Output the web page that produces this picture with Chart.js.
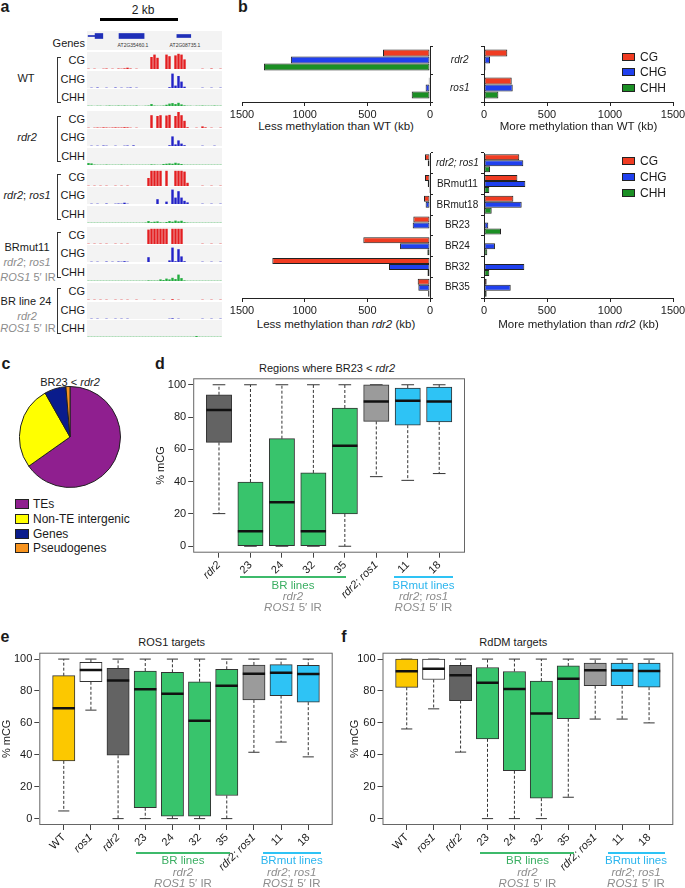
<!DOCTYPE html>
<html>
<head>
<meta charset="utf-8">
<script src="https://cdn.jsdelivr.net/npm/chart.js@4.4.0/dist/chart.umd.min.js"></script>
<style>
body{margin:0;background:#fff;}
#fig{position:relative;width:685px;height:888px;overflow:hidden;font-family:'Liberation Sans',Arial,sans-serif;color:#1a1a1a;}
#fig canvas{position:absolute;}
.t{position:absolute;white-space:nowrap;line-height:1;}
</style>
</head>
<body>
<div id="fig"></div>
<script>
// ---------- a: methylation tracks (45 bins over ~3.5 kb) ----------
var WT_CG   = [2,0,2,0,0,2,3,0,2,0,3,2,4,8,3,0,2,0,0,0,0,75,90,70,0,0,90,80,0,85,95,90,60,0,0,0,0,0,2,0,0,3,0,0,2];
var WT_CHG  = [0,2,0,3,0,0,2,0,0,3,0,2,0,2,3,0,2,0,0,0,0,0,0,0,0,0,0,5,90,15,75,40,8,0,0,0,0,0,2,0,0,2,0,0,2];
var WT_CHH  = [2,2,1,2,2,1,2,3,2,2,3,2,3,2,2,2,3,1,1,2,3,12,3,2,2,3,8,15,18,12,20,10,4,2,2,1,2,2,3,2,2,2,3,2,2];
var rdr2_CG  = [2,0,2,3,2,4,3,2,3,4,3,3,5,4,2,0,2,0,0,0,0,80,0,75,80,0,78,82,0,75,100,80,45,5,0,0,2,0,10,4,0,2,0,0,2];
var rdr2_CHG = [0,2,0,2,0,3,2,0,0,2,0,0,2,3,0,4,0,0,0,0,0,0,0,0,0,0,0,5,60,10,35,15,5,0,0,0,0,0,2,0,0,0,2,0,0];
var rdr2_CHH = [12,10,3,2,2,2,3,2,2,2,2,3,2,2,2,2,2,2,2,2,2,4,3,2,2,6,8,10,8,14,10,6,2,2,2,2,2,2,2,2,2,2,2,2,2];
var rr_CG  = [2,0,2,0,2,0,2,0,0,2,0,2,0,2,0,0,0,0,0,0,50,95,95,95,95,0,95,0,0,95,95,95,90,20,0,0,0,0,2,0,0,2,0,0,2];
var rr_CHG = [0,2,0,2,0,0,3,0,0,2,3,2,8,2,0,0,0,0,0,0,0,0,0,30,0,0,15,0,90,40,80,40,20,10,0,0,0,0,2,0,0,2,0,0,2];
var rr_CHH = [2,2,2,2,2,2,2,2,2,2,2,2,2,2,2,2,2,2,2,3,12,5,8,10,4,3,6,12,8,15,10,14,5,3,2,2,2,2,2,2,2,2,2,2,2];
var m11_CG  = [2,0,2,0,2,0,2,0,0,2,0,2,0,2,0,0,0,0,0,0,90,95,95,95,95,95,95,0,95,95,95,95,0,0,0,0,0,0,2,0,0,2,0,0,2];
var m11_CHG = [0,2,0,2,0,0,3,0,2,0,3,2,5,2,0,0,0,0,0,0,30,0,0,0,0,0,0,10,90,5,80,35,5,0,0,0,0,0,2,0,0,2,0,0,2];
var m11_CHH = [2,2,2,2,2,2,2,2,2,2,2,2,2,2,2,2,2,2,2,2,4,3,3,3,10,6,15,10,20,12,40,18,4,2,2,2,2,2,2,2,2,2,2,2,2];
var br24_CG  = [2,0,2,0,2,0,2,0,0,2,0,2,0,2,0,0,2,0,0,0,0,0,2,0,0,2,0,0,5,0,2,0,0,0,0,0,0,0,2,0,0,2,0,0,2];
var br24_CHG = [0,2,0,2,0,0,2,0,0,2,0,2,0,2,0,0,0,0,0,0,0,0,0,0,0,0,0,2,4,0,2,0,0,0,0,0,0,0,2,0,0,2,0,0,2];
var br24_CHH = [2,2,2,2,2,2,2,2,2,2,2,2,2,2,2,2,2,2,2,2,2,2,2,2,2,2,2,2,2,2,2,2,2,2,2,2,6,2,2,2,2,2,2,2,2];
// gene models (kb)
var geneStart = [0.03, 0.21, 0.83, 2.33];
var geneEnd   = [0.21, 0.41, 1.48, 2.69];

// ---------- b: differentially methylated regions (kb) ----------
var bCatsWT = ['rdr2', 'ros1'];
var lessWT_CG  = [375, 10];
var lessWT_CHG = [1110, 35];
var lessWT_CHH = [1325, 146];
var moreWT_CG  = [185, 220];
var moreWT_CHG = [48, 228];
var moreWT_CHH = [12, 114];
var bCatsR = ['rdr2; ros1', 'BRmut11', 'BRmut18', 'BR23', 'BR24', 'BR32', 'BR35'];
var lessR_CG  = [40, 40, 48, 133, 532, 1258, 98];
var lessR_CHG = [18, 18, 35, 138, 239, 327, 93];
var lessR_CHH = [5, 8, 5, 2, 21, 20, 15];
var moreR_CG  = [280, 265, 233, 3, 4, 4, 21];
var moreR_CHG = [312, 328, 299, 34, 87, 320, 212];
var moreR_CHH = [48, 42, 61, 135, 26, 42, 21];

// ---------- c: BR23 < rdr2 annotation ----------
var pieLabels = ['TEs', 'Non-TE intergenic', 'Genes', 'Pseudogenes'];
var pieValues = [65.2, 26.6, 6.9, 1.3];

// ---------- d: regions where BR23 < rdr2 ----------
var dCats = ['rdr2', '23', '24', '32', '35', 'rdr2; ros1', '11', '18'];
var dMin = [20.2, 0, 0, 0, 0, 43.1, 40.8, 45];
var dQ1  = [64.3, 0, 0, 0, 20, 77.3, 75, 77];
var dMed = [84.3, 9.3, 27.2, 9.3, 62.3, 89.7, 90.1, 89.7];
var dQ3  = [93.8, 39.8, 66.6, 45.4, 85.6, 100, 98, 98.6];
var dMax = [100, 100, 100, 100, 100, 100, 100, 100];

// ---------- e: ROS1 targets ----------
var efCats = ['WT', 'ros1', 'rdr2', '23', '24', '32', '35', 'rdr2; ros1', '11', '18'];
var eMin = [4.8, 68, 0, 0, 0, 0, 0, 41.6, 48, 38.7];
var eQ1  = [36.2, 85.8, 39.7, 6.8, 1.6, 1.6, 14.5, 74.4, 77.1, 73];
var eMed = [69.2, 93.1, 86.5, 81.1, 78.2, 61.3, 83.3, 90.8, 91.5, 90.6];
var eQ3  = [89.6, 97.9, 94.2, 92.5, 91.7, 85.8, 93.6, 96.3, 96.5, 96.1];
var eMax = [100, 100, 100, 100, 100, 100, 100, 100, 100, 100];

// ---------- f: RdDM targets ----------
var fMin = [56.2, 68.8, 41.7, 0, 0, 0, 13.4, 62.4, 62.4, 60];
var fQ1  = [82.3, 87.2, 74, 50, 30, 12.8, 62.6, 83.3, 83.3, 82.4];
var fMed = [92.4, 94, 89.9, 85.1, 81.2, 65.9, 87.6, 93, 92.8, 92.6];
var fQ3  = [100, 100, 96.1, 94.7, 92.2, 86.2, 95.7, 97.5, 97.5, 97.5];
var fMax = [100, 100, 100, 100, 100, 100, 100, 100, 100, 100];

var italics = ['rdr2', 'ros1', 'rdr2; ros1'];
var RED = '#f03c22', BLUE = '#2040ee', GREEN = '#1b8f24';
var boxCols = ['#fcc800', '#ffffff', '#636363', '#38c46c', '#38c46c', '#38c46c', '#38c46c', '#9b9b9b', '#2ec3f5', '#2ec3f5'];

Chart.defaults.font.family = "'Liberation Sans', Arial, sans-serif";
Chart.defaults.color = '#1a1a1a';
Chart.defaults.animation = false;
Chart.defaults.responsive = false;
Chart.defaults.layout.autoPadding = false;
Chart.defaults.plugins.legend.display = false;
Chart.defaults.plugins.tooltip.enabled = false;

var fig = document.getElementById('fig');

function canvas(x, y, w, h, bg) {
	var c = document.createElement('canvas');
	c.width = w; c.height = h;
	c.style.left = x + 'px'; c.style.top = y + 'px';
	if (bg) c.style.background = bg;
	fig.appendChild(c);
	return c;
}
function text(html, x, y, align, css) {
	var d = document.createElement('div');
	d.className = 't';
	d.innerHTML = html;
	d.style.left = x + 'px'; d.style.top = y + 'px';
	var tx = align == 'l' ? '0' : align == 'r' ? '-100%' : '-50%';
	d.style.transform = 'translate(' + tx + ',-50%)';
	if (css) d.style.cssText += css;
	fig.appendChild(d);
	return d;
}
function rect(x, y, w, h, css) {
	var d = document.createElement('div');
	d.style.cssText = 'position:absolute;left:' + x + 'px;top:' + y + 'px;width:' + w + 'px;height:' + h + 'px;' + css;
	fig.appendChild(d);
	return d;
}
// keep Chart.js from reserving room for half-labels at the axis ends
function noPad(s) { s.paddingTop = 0; s.paddingBottom = 0; s.paddingLeft = 0; s.paddingRight = 0; }

// panel letters
text('a', 5, 7, 'c', 'font-weight:bold;font-size:16px');
text('b', 243, 7, 'c', 'font-weight:bold;font-size:16px');
text('c', 6, 364, 'c', 'font-weight:bold;font-size:16px');
text('d', 160, 364, 'c', 'font-weight:bold;font-size:16px');
text('e', 5, 637, 'c', 'font-weight:bold;font-size:16px');
text('f', 344, 637, 'c', 'font-weight:bold;font-size:16px');

// ===== a =====
var bins = WT_CG.map(function(v, i){ return i; });
function track(vals, color, x, y) {
	new Chart(canvas(x, y, 135, 17, '#f3f3f3'), {
		type: 'bar',
		data: {labels: bins, datasets: [{data: vals, backgroundColor: color, barPercentage: 0.8, categoryPercentage: 1}]},
		options: {
			layout: {padding: {top: 1}},
			scales: {
				x: {ticks: {display: false}, grid: {drawOnChartArea: false, drawTicks: false}, border: {color: '#8a8a8a', dash: [1, 2]}},
				y: {display: false, min: 0, max: 100}
			}
		}
	});
}
text('2 kb', 143, 10, 'c', 'font-size:12px');
rect(100, 18, 78, 3, 'background:#000');
rect(87, 31, 135, 19, 'background:#f3f3f3');
new Chart(canvas(87, 32, 135, 8), {
	type: 'bar',
	data: {labels: ['g'], datasets: geneStart.map(function(s, i){
		return {data: [[s, geneEnd[i]]], backgroundColor: '#1f2fb8', barThickness: [1, 5, 5, 3][i], grouped: false};
	})},
	options: {indexAxis: 'y', scales: {x: {display: false, min: 0, max: 3.5}, y: {display: false}}}
});
text('AT2G35460.1', 133, 45, 'c', 'font-size:5px;color:#333');
text('AT2G08735.1', 185, 45, 'c', 'font-size:5px;color:#333');
text('Genes', 85, 43, 'r', 'font-size:11px');

var groups = [
	[WT_CG, WT_CHG, WT_CHH], [rdr2_CG, rdr2_CHG, rdr2_CHH], [rr_CG, rr_CHG, rr_CHH],
	[m11_CG, m11_CHG, m11_CHH], [br24_CG, br24_CHG, br24_CHH]
];
var gTop = [52, 110.5, 168.5, 226.5, 283];
var tCols = ['#e41e20', '#2222c8', '#22ad3e'];
groups.forEach(function(g, gi){
	g.forEach(function(vals, t){
		var y = gTop[gi] + t * 18.5;
		track(vals, tCols[t], 87, y);
		text(['CG', 'CHG', 'CHH'][t], 85, y + 8, 'r', 'font-size:11px');
	});
	rect(57, gTop[gi] + 5, 4, 46, 'border:1px solid #333;border-right:none;box-sizing:border-box');
});
var gl = 'font-size:11px;';
text('WT', 26, 78, 'c', gl);
text('<i>rdr2</i>', 27, 137, 'c', gl);
text('<i>rdr2</i>; <i>ros1</i>', 27, 195, 'c', gl);
text('BRmut11', 27, 247, 'c', gl);
text('<i>rdr2</i>; <i>ros1</i>', 27, 262, 'c', gl + 'color:#8c8c8c');
text('<i>ROS1</i> 5\u2032 IR', 28, 277, 'c', gl + 'color:#8c8c8c');
text('BR line 24', 26, 301, 'c', gl);
text('<i>rdr2</i>', 27, 316, 'c', gl + 'color:#8c8c8c');
text('<i>ROS1</i> 5\u2032 IR', 28, 328, 'c', gl + 'color:#8c8c8c');

// ===== b =====
function hbars(x, y, w, h, pad, cats, cg, chg, chh, left, catPct, labPad) {
	new Chart(canvas(x, y, w, h), {
		type: 'bar',
		data: {labels: cats, datasets: [
			{data: cg, backgroundColor: RED},
			{data: chg, backgroundColor: BLUE},
			{data: chh, backgroundColor: GREEN}
		]},
		options: {
			indexAxis: 'y',
			layout: {padding: pad},
			datasets: {bar: {borderColor: '#222', borderWidth: 1, borderSkipped: false, barPercentage: 1, categoryPercentage: catPct}},
			scales: {
				x: {min: 0, max: 1500, reverse: left,
					ticks: {stepSize: 500, font: {size: 11}, padding: 2, maxRotation: 0, callback: function(v){ return String(v); }},
					grid: {drawOnChartArea: false, tickLength: 4, color: '#222'}, border: {color: '#222'},
					afterFit: function(s){ s.height = 16; noPad(s); }},
				y: {position: left ? 'right' : 'left',
					ticks: {display: left, crossAlign: 'center', padding: labPad,
						font: function(c){ return {size: 10, style: italics.indexOf(cats[c.index]) >= 0 ? 'italic' : 'normal'}; }},
					grid: {drawOnChartArea: false, tickLength: 3, color: '#222'}, border: {color: '#222'},
					afterFit: function(s){ s.width = left ? 54 : 6; noPad(s); }}
			}
		}
	});
}
hbars(230, 40, 254, 78, {left: 12, top: 6}, bCatsWT, lessWT_CG, lessWT_CHG, lessWT_CHH, true, 0.75, 17);
hbars(478, 40, 207, 78, {right: 12, top: 6}, bCatsWT, moreWT_CG, moreWT_CHG, moreWT_CHH, false, 0.75, 0);
hbars(230, 146, 254, 168, {left: 12, top: 7}, bCatsR, lessR_CG, lessR_CHG, lessR_CHH, true, 0.87, 3);
hbars(478, 146, 207, 168, {right: 12, top: 7}, bCatsR, moreR_CG, moreR_CHG, moreR_CHH, false, 0.87, 0);
text('Less methylation than WT (kb)', 336, 127, 'c', 'font-size:11.5px');
text('More methylation than WT (kb)', 578.5, 127, 'c', 'font-size:11.5px');
text('Less methylation than <i>rdr2</i> (kb)', 336, 325, 'c', 'font-size:11.5px');
text('More methylation than <i>rdr2</i> (kb)', 578.5, 325, 'c', 'font-size:11.5px');
[[57, 161], [72, 177], [88, 193]].forEach(function(r, i){
	[r[0], r[1]].forEach(function(yy){
		rect(622, yy - 4, 13, 8, 'background:' + [RED, BLUE, GREEN][i] + ';border:1px solid #222;box-sizing:border-box');
		text(['CG', 'CHG', 'CHH'][i], 640, yy, 'l', 'font-size:12px');
	});
});

// ===== c =====
text('BR23 &lt; <i>rdr2</i>', 70, 382, 'c', 'font-size:11px');
var pieCols = ['#8f1f8f', '#ffff00', '#0a1c8c', '#f7931e'];
new Chart(canvas(19, 386, 102, 102), {
	type: 'pie',
	data: {labels: pieLabels, datasets: [{data: pieValues, backgroundColor: pieCols, borderColor: '#222', borderWidth: 1}]},
	options: {layout: {padding: 0}}
});
[504, 519, 533.5, 548].forEach(function(yy, i){
	rect(15, yy - 5, 14, 10, 'background:' + pieCols[i] + ';border:1px solid #222;box-sizing:border-box');
	text(pieLabels[i], 33, yy, 'l', 'font-size:12px');
});

// ===== d, e, f box plots =====
var frame = {id: 'frame', afterDatasetsDraw: function(c){
	var a = c.chartArea, ctx = c.ctx;
	ctx.save(); ctx.strokeStyle = '#666'; ctx.lineWidth = 1;
	ctx.strokeRect(a.left + 0.5, a.top + 0.5, a.right - a.left - 1, a.bottom - a.top - 1);
	ctx.restore();
}};
function boxPlot(x, y, w, h, pad, yW, xH, cats, mn, q1, md, q3, mx, cols, bw) {
	var whisk = [], caps = [], boxes = [], meds = [];
	cats.forEach(function(c, i){
		var p = i + 1;
		whisk.push({x: p, y: q3[i]}, {x: p, y: mx[i]}, {x: p, y: null}, {x: p, y: q1[i]}, {x: p, y: mn[i]}, {x: p, y: null});
		caps.push({x: p, y: mx[i]}, {x: p, y: mn[i]});
		boxes.push({x: p, y: [q1[i], q3[i]]});
		meds.push({x: p, y: md[i]});
	});
	var n = cats.length;
	new Chart(canvas(x, y, w, h), {
		type: 'line',
		data: {datasets: [
			{type: 'line', data: whisk, borderColor: '#333', borderWidth: 1, borderDash: [3, 2], pointRadius: 0, spanGaps: false, order: 3},
			{type: 'line', data: caps, showLine: false, pointStyle: 'line', pointRadius: bw / 4, pointBorderColor: '#333', pointBorderWidth: 1, order: 2},
			{type: 'bar', data: boxes, backgroundColor: cols, borderColor: '#333', borderWidth: 1, borderSkipped: false, barThickness: bw, order: 1},
			{type: 'line', data: meds, showLine: false, pointStyle: 'line', pointRadius: bw / 2, pointBorderColor: '#111', pointBorderWidth: 2.5, order: 0}
		]},
		options: {
			layout: {padding: pad},
			scales: {
				x: {type: 'linear', min: 0.5 - 0.04 * n, max: n + 0.5 + 0.04 * n, offset: false,
					afterBuildTicks: function(s){ s.ticks = cats.map(function(c, i){ return {value: i + 1}; }); },
					ticks: {callback: function(v, i){ return cats[i]; }, minRotation: 45, maxRotation: 45, autoSkip: false, padding: 1,
						font: function(c){ return {size: 11, style: italics.indexOf(cats[c.index]) >= 0 ? 'italic' : 'normal'}; }},
					grid: {drawOnChartArea: false, tickLength: 5, color: '#444', offset: false}, border: {display: false},
					afterFit: function(s){ s.height = xH; noPad(s); }},
				y: {min: -4, max: 104,
					afterBuildTicks: function(s){ s.ticks = [0, 20, 40, 60, 80, 100].map(function(v){ return {value: v}; }); },
					ticks: {font: {size: 11}, padding: 2},
					grid: {drawOnChartArea: false, tickLength: 5, color: '#444'}, border: {display: false},
					title: {display: true, text: '% mCG', font: {size: 11}, padding: 0},
					afterFit: function(s){ s.width = yW; noPad(s); }}
			}
		},
		plugins: [frame]
	});
}

// d
text('Regions where BR23 &lt; <i>rdr2</i>', 327, 368, 'c', 'font-size:11px');
boxPlot(153.5, 372, 320, 228, {top: 6.3, right: 9}, 39.2, 47.3, dCats, dMin, dQ1, dMed, dQ3, dMax, boxCols.slice(2), 25.3);
rect(240, 576, 106, 2, 'background:#3dba6b');
rect(394, 576, 59, 2, 'background:#2ec3f5');
text('BR lines', 293, 586, 'c', 'font-size:11.5px;color:#3aae62');
text('<i>rdr2</i>', 293, 597, 'c', 'font-size:11.5px;color:#8c8c8c');
text('<i>ROS1</i> 5\u2032 IR', 293, 608, 'c', 'font-size:11.5px;color:#8c8c8c');
text('BRmut lines', 423.5, 586, 'c', 'font-size:11.5px;color:#2bb5ee');
text('<i>rdr2</i>; <i>ros1</i>', 423.5, 597, 'c', 'font-size:11.5px;color:#8c8c8c');
text('<i>ROS1</i> 5\u2032 IR', 423.5, 608, 'c', 'font-size:11.5px;color:#8c8c8c');

// e
text('ROS1 targets', 171.7, 642, 'c', 'font-size:11px');
boxPlot(0, 646, 342, 242, {top: 6.7, right: 9.3}, 39.3, 63, efCats, eMin, eQ1, eMed, eQ3, eMax, boxCols, 22.3);
rect(136, 851.5, 94, 2, 'background:#3dba6b');
rect(263, 851.5, 58, 2, 'background:#2ec3f5');
text('BR lines', 183, 861, 'c', 'font-size:11.5px;color:#3aae62');
text('<i>rdr2</i>', 183, 872.7, 'c', 'font-size:11.5px;color:#8c8c8c');
text('<i>ROS1</i> 5\u2032 IR', 183, 884.3, 'c', 'font-size:11.5px;color:#8c8c8c');
text('BRmut lines', 291.7, 861, 'c', 'font-size:11.5px;color:#2bb5ee');
text('<i>rdr2</i>; <i>ros1</i>', 291.7, 872.7, 'c', 'font-size:11.5px;color:#8c8c8c');
text('<i>ROS1</i> 5\u2032 IR', 291.7, 884.3, 'c', 'font-size:11.5px;color:#8c8c8c');

// f
text('RdDM targets', 513.3, 642, 'c', 'font-size:11px');
boxPlot(340, 646, 345, 242, {top: 6.7, right: 11.7, left: 8}, 34.5, 63, efCats, fMin, fQ1, fMed, fQ3, fMax, boxCols, 22.3);
rect(480, 851.5, 94, 2, 'background:#3dba6b');
rect(607.7, 851.5, 57, 2, 'background:#2ec3f5');
text('BR lines', 527.5, 861, 'c', 'font-size:11.5px;color:#3aae62');
text('<i>rdr2</i>', 527.5, 872.7, 'c', 'font-size:11.5px;color:#8c8c8c');
text('<i>ROS1</i> 5\u2032 IR', 527.5, 884.3, 'c', 'font-size:11.5px;color:#8c8c8c');
text('BRmut lines', 636, 861, 'c', 'font-size:11.5px;color:#2bb5ee');
text('<i>rdr2</i>; <i>ros1</i>', 636, 872.7, 'c', 'font-size:11.5px;color:#8c8c8c');
text('<i>ROS1</i> 5\u2032 IR', 636, 884.3, 'c', 'font-size:11.5px;color:#8c8c8c');
</script>
</body>
</html>
